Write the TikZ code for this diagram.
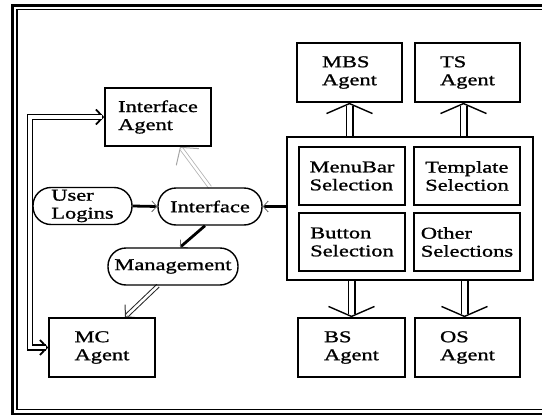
\documentclass[tikz,border=0pt]{standalone}
\usepackage{fontspec}
\setmainfont[FakeStretch=1.36,FakeBold=1.2]{Liberation Serif}
\usetikzlibrary{arrows.meta,calc,backgrounds}
\begin{document}
\begin{tikzpicture}[x=1pt,y=-1pt,
  every node/.style={font=\fontsize{16.5}{18}\selectfont, inner sep=0pt},
  agent/.style={draw, line width=1.6pt, minimum width=106pt, minimum height=58pt, align=left},
  pill/.style={draw, line width=1.4pt, rounded corners=18pt, minimum height=37pt, align=left},
  % double shafts, drawn over a white carrier path that holds the tip
  carrier/.style={white, line width=1pt},
  vdbl/.style={draw=black, double=white, line width=1.5pt, double distance=5pt},
  ldbl/.style={draw=black, double=white, line width=1.5pt, double distance=3.5pt},
  gdbl/.style={draw=gray!60, double=white, line width=0.8pt, double distance=2.5pt},
  mdbl/.style={draw=black!85, double=white, line width=1pt, double distance=2.5pt},
  heavy/.style={line width=2.8pt},
  bigbarb/.style={-{Straight Barb[length=10pt,width=46pt,line width=1.4pt,color=black]}},
  loopbarb/.style={{Straight Barb[length=7pt,width=15pt,line width=1.8pt,color=black]}-{Straight Barb[length=7pt,width=15pt,line width=1.8pt,color=black]}},
  graybarb/.style={-{Straight Barb[length=12pt,width=28pt,line width=1pt,color=gray!70]}},
  midbarb/.style={-{Straight Barb[length=8pt,width=18pt,line width=1pt,color=black!80]}},
  smallbarb/.style={-{Straight Barb[length=5pt,width=11pt,line width=0.8pt,color=black!60]}}
]
\clip (0,0) rectangle (542,418);
\useasboundingbox (0,0) rectangle (542,418);

% outer double frame, open to the right
\draw[line width=2.2pt] (12.5,5.5) rectangle (600,414);
\draw[line width=1.4pt] (17,9.5) rectangle (600,409.5);

% left column
\node[agent] (ia) at (158,117) {Interface\\Agent};
\node[agent, minimum height=59pt] (mc) at (102,347.5) {MC\\Agent};
\node[pill, minimum width=99pt] (ul) at (82.5,206) {User\\Logins};
\node[pill, minimum width=104pt] (iface) at (210,206.5) {Interface};
\node[pill, minimum width=130pt] (mg) at (173,266.5) {Management};

% right column
\node[agent, minimum width=105pt, minimum height=59pt] (mbs) at (349.5,72.5) {MBS\\Agent};
\node[agent, minimum width=105pt, minimum height=59pt] (ts) at (467.5,72.5) {TS\\Agent};
\node[draw, line width=1.6pt, minimum width=246pt, minimum height=143pt] (sel) at (410,208.5) {};
\node[agent] (mb) at (352,176) {MenuBar\\Selection};
\node[agent] (tp) at (467,176) {Template\\Selection};
\node[agent] (bt) at (352,242) {Button\\Selection};
\node[agent] (ot) at (467,242) {Other\\Selections};
\node[agent, minimum width=107pt, minimum height=59pt] (bs) at (351.5,347.5) {BS\\Agent};
\node[agent, minimum width=105pt, minimum height=59pt] (os) at (467.5,347.5) {OS\\Agent};

\begin{pgfonlayer}{background}
  % loop between the MC agent and the interface agent
  \draw[carrier, loopbarb] (mc.west) -- ++(-18,0) |- (ia.west);
  \draw[ldbl, shorten <=2pt, shorten >=2pt] (mc.west) -- ++(-18,0) |- (ia.west);

  % interface up to the interface agent
  \draw[carrier, graybarb] (iface.north) -- ([xshift=22pt]ia.south);
  \draw[gdbl, shorten >=3pt] (iface.north) -- ([xshift=22pt]ia.south);

  % interface down to management, management to MC agent
  \draw[heavy, smallbarb] ([xshift=-5pt]iface.south) -- ([xshift=7pt]mg.north);
  \draw[carrier, midbarb] ([xshift=-15pt]mg.south) -- ([xshift=23pt]mc.north);
  \draw[mdbl, shorten >=3pt] ([xshift=-15pt]mg.south) -- ([xshift=23pt]mc.north);

  % inputs into the interface
  \draw[heavy, smallbarb] (ul.east) -- (iface.west);
  \draw[heavy, smallbarb] (sel.west |- iface.east) -- (iface.east);

  % selection panel to the four agents
  \draw[carrier, bigbarb] (sel.north -| mbs.south) -- (mbs.south);
  \draw[vdbl, shorten >=3pt] (sel.north -| mbs.south) -- (mbs.south);
  \draw[carrier, bigbarb] ($(sel.north -| ts.south)+(-4,0)$) -- ($(ts.south)+(-4,0)$);
  \draw[vdbl, shorten >=3pt] ($(sel.north -| ts.south)+(-4,0)$) -- ($(ts.south)+(-4,0)$);
  \draw[carrier, bigbarb] (sel.south -| bs.north) -- (bs.north);
  \draw[vdbl, shorten >=3pt] (sel.south -| bs.north) -- (bs.north);
  \draw[carrier, bigbarb] ($(sel.south -| os.north)+(-3,0)$) -- ($(os.north)+(-3,0)$);
  \draw[vdbl, shorten >=3pt] ($(sel.south -| os.north)+(-3,0)$) -- ($(os.north)+(-3,0)$);
\end{pgfonlayer}
\end{tikzpicture}
\end{document}
